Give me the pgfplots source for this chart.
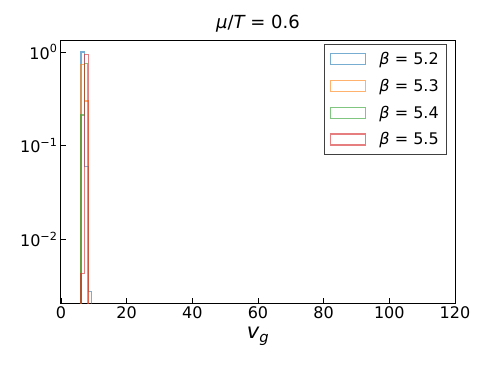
\documentclass[border=0pt]{standalone}
\usepackage{fontspec}
\setmainfont{DejaVu Sans}
\usepackage{pgfplots}
\pgfplotsset{compat=1.18}

\definecolor{tabblue}{HTML}{1F77B4}
\definecolor{taborange}{HTML}{FF7F0E}
\definecolor{tabgreen}{HTML}{2CA02C}
\definecolor{tabred}{HTML}{D62728}

\begin{document}
\begin{tikzpicture}
\begin{axis}[
  name=ax,
  at={(0,0)}, anchor=south west,
  width=394pt, height=263pt,
  scale only axis,
  xmin=0, xmax=120,
  ymode=log,
  ymin=0.0021, ymax=1.34,
  xtick={0,20,40,60,80,100,120},
  ytick={1,0.1,0.01},
  yticklabels={10\textsuperscript{0},10\textsuperscript{−1},10\textsuperscript{−2}},
  xtick pos=bottom, ytick pos=left,
  tick align=inside,
  major tick length=5pt, minor tick length=3pt,
  every tick/.style={black, line width=0.8pt},
  axis line style={line width=1pt},
  /pgf/number format/assume math mode=true,
  tick label style={font=\fontsize{16}{19}\selectfont},
  title={{\itshape μ}/{\itshape T} = 0.6},
  title style={font=\fontsize{18}{21}\selectfont, yshift=-2pt},
  xlabel={{\itshape v}\textsubscript{\itshape g}},
  xlabel style={font=\fontsize{21}{25}\selectfont, yshift=-2pt},
  legend style={at={(0.98,0.985)}, anchor=north east, draw=black!75,
    line width=0.8pt, fill=white, font=\fontsize{16}{19}\selectfont,
    row sep=9pt, inner xsep=6pt, inner ysep=6pt,
    /tikz/every odd column/.append style={column sep=11pt}},
  legend cell align=left,
  legend image code/.code={\draw[#1] (0pt,-5.5pt) rectangle (35pt,5.5pt);},
]
\addplot[const plot, tabblue, opacity=0.6, line width=1.2pt] coordinates {
  (6.1,0.0001)(6.1,1.0)(7.2,0.06)(8.3,0.0028)(9.4,0.0028)(9.4,0.0001)
};
\addlegendentry{{\itshape β} = 5.2}
\addplot[const plot, taborange, opacity=0.6, line width=1.2pt] coordinates {
  (6.0,0.0001)(6.0,0.73)(7.25,0.30)(8.45,0.30)(8.45,0.0001)
};
\addlegendentry{{\itshape β} = 5.3}
\addplot[const plot, tabgreen, opacity=0.6, line width=1.2pt] coordinates {
  (6.1,0.0001)(6.1,0.213)(7.1,0.76)(8.1,0.76)(8.1,0.0001)
};
\addlegendentry{{\itshape β} = 5.4}
\addplot[const plot, tabred, opacity=0.6, line width=1.2pt] coordinates {
  (6.1,0.0001)(6.1,0.0043)(7.1,0.94)(8.3,0.94)(8.3,0.0001)
};
\addlegendentry{{\itshape β} = 5.5}
\end{axis}
\path (-61pt,-65pt) rectangle (429pt,303pt);
\end{tikzpicture}
\end{document}
